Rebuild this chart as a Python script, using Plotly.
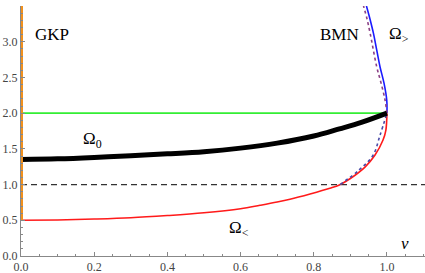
import plotly.graph_objects as go

# Omega_0 (black, thick)
v_omega0 = [0.0, 0.1, 0.2, 0.3, 0.4, 0.5, 0.6, 0.7, 0.8, 0.87, 0.93, 1.0]
y_omega0 = [1.35, 1.36, 1.38, 1.405, 1.43, 1.46, 1.51, 1.58, 1.68, 1.78, 1.87, 2.0]

# Omega_< (red)
v_less = [0.0, 0.1, 0.2, 0.3, 0.4, 0.5, 0.6, 0.653, 0.7, 0.735, 0.79, 0.844, 0.87, 0.9, 0.94, 0.967, 0.989, 0.997, 1.0]
y_less = [0.5, 0.505, 0.517, 0.535, 0.566, 0.605, 0.662, 0.71, 0.755, 0.794, 0.868, 0.948, 0.995, 1.085, 1.245, 1.41, 1.62, 1.76, 2.0]

# Omega_> (blue)
v_greater = [1.0, 0.9995, 0.992, 0.981, 0.972, 0.963, 0.952, 0.944]
y_greater = [2.0, 2.18, 2.42, 2.65, 2.885, 3.12, 3.35, 3.5]

# BMN dotted, upper branch (purple) and lower branch (blue)
v_bmn_up = [1.0, 0.995, 0.984, 0.972, 0.954, 0.945, 0.936]
y_bmn_up = [2.0, 2.18, 2.42, 2.65, 3.12, 3.33, 3.5]
v_bmn_low = [0.872, 0.923, 0.962, 0.981, 1.0]
y_bmn_low = [1.0, 1.2, 1.41, 1.69, 2.0]

# GKP (orange, on v=0), green line and dashed line
v_gkp = [0.0, 0.0]
y_gkp = [0.5, 3.5]
v_green = [0.0, 1.0]
y_green = [2.0, 2.0]
v_dash = [0.0, 1.104]
y_dash = [1.0, 1.0]

fig = go.Figure()
fig.add_trace(go.Scatter(x=v_dash, y=y_dash, mode="lines",
                         line=dict(color="#333333", width=1.2, dash="6px,4px")))
fig.add_trace(go.Scatter(x=v_green, y=y_green, mode="lines",
                         line=dict(color="#33ee33", width=1.8)))
fig.add_trace(go.Scatter(x=v_less, y=y_less, mode="lines", line_shape="spline",
                         line=dict(color="#ff1a1a", width=1.6)))
fig.add_trace(go.Scatter(x=v_greater, y=y_greater, mode="lines", line_shape="spline",
                         line=dict(color="#1a1aff", width=1.6)))
fig.add_trace(go.Scatter(x=v_bmn_up, y=y_bmn_up, mode="lines", line_shape="spline",
                         line=dict(color="#8a3f84", width=1.6, dash="dot")))
fig.add_trace(go.Scatter(x=v_bmn_low, y=y_bmn_low, mode="lines", line_shape="spline",
                         line=dict(color="#4a4aa8", width=1.6, dash="dot")))
fig.add_trace(go.Scatter(x=v_omega0, y=y_omega0, mode="lines", line_shape="spline",
                         line=dict(color="black", width=5)))
fig.add_trace(go.Scatter(x=v_gkp, y=y_gkp, mode="lines",
                         line=dict(color="#f0901e", width=4)))

serif = "Liberation Serif"
ann = [
    dict(x=0.085, y=3.095, text="GKP", xanchor="center"),
    dict(x=0.87, y=3.095, text="BMN", xanchor="center"),
    dict(x=1.0, y=3.095, text="Ω<sub>&gt;</sub>", xanchor="left"),
    dict(x=0.163, y=1.62, text="Ω<sub>0</sub>", xanchor="left"),
    dict(x=0.563, y=0.38, text="Ω<sub>&lt;</sub>", xanchor="left"),
]
for a in ann:
    fig.add_annotation(x=a["x"], y=a["y"], text=a["text"], xanchor=a["xanchor"],
                       yanchor="middle", showarrow=False,
                       font=dict(family=serif, size=17, color="black"))
fig.add_annotation(x=1.049, y=0.18, text="<i>v</i>", showarrow=False,
                   font=dict(family=serif, size=17, color="black"))

fig.update_layout(
    width=425, height=273,
    margin=dict(l=21, r=0, t=6, b=17),
    paper_bgcolor="white", plot_bgcolor="white",
    font=dict(family=serif, size=12, color="#444444"),
    showlegend=False,
    xaxis=dict(range=[0, 1.104], showgrid=False, zeroline=False, automargin=False,
               showline=True, linecolor="#888888", linewidth=1,
               tickmode="array", tickvals=[0, 0.2, 0.4, 0.6, 0.8, 1.0],
               ticktext=["0.0", "0.2", "0.4", "0.6", "0.8", "1.0"],
               ticks="inside", ticklen=4, tickcolor="#888888",
               minor=dict(dtick=0.05, ticks="inside", ticklen=2, tickcolor="#888888"),
               tickfont=dict(family=serif, size=12, color="#444444")),
    yaxis=dict(range=[0, 3.5], showgrid=False, zeroline=False, automargin=False,
               showline=True, linecolor="#888888", linewidth=1,
               tickmode="array", tickvals=[0, 0.5, 1.0, 1.5, 2.0, 2.5, 3.0, 3.5],
               ticktext=["0.0", "0.5", "1.0", "1.5", "2.0", "2.5", "3.0", "3.5"],
               ticks="inside", ticklen=4, tickcolor="#888888",
               minor=dict(dtick=0.1, ticks="inside", ticklen=2, tickcolor="#888888"),
               tickfont=dict(family=serif, size=12, color="#444444")),
)
fig.write_html("out.html", config={"displayModeBar": False},
               post_script="document.body.style.margin='0';document.body.style.overflow='hidden';")
